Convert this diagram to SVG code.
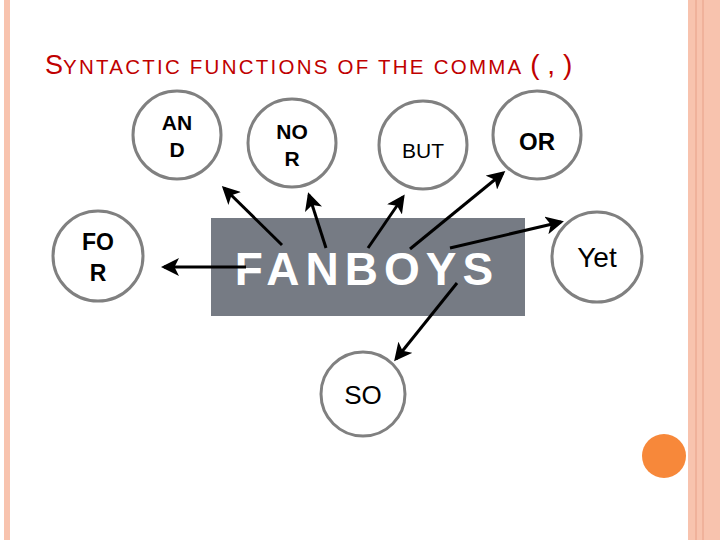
<svg xmlns="http://www.w3.org/2000/svg" width="720" height="540" viewBox="0 0 720 540">
<defs>
<style>
.c{fill:#fff;stroke:#808080;stroke-width:3}
.t{font-family:"Liberation Sans",Arial,sans-serif;fill:#000;text-anchor:middle}
.b{font-weight:bold}
.a{stroke:#000;stroke-width:3;fill:none;marker-end:url(#ah)}
</style>
<marker id="ah" markerWidth="6" markerHeight="6" refX="5" refY="3" orient="auto" markerUnits="strokeWidth"><path d="M0,0 L6,3 L0,6 L1.5,3 Z" fill="#000"/></marker>
</defs>
<rect width="720" height="540" fill="#fff"/>
<rect x="4" y="0" width="6" height="540" fill="#f8c3ae"/>
<rect x="688" y="0" width="32" height="540" fill="#f8c3ae"/>
<line x1="696" y1="0" x2="696" y2="540" stroke="#e8a088" stroke-width="1"/>
<line x1="703" y1="0" x2="703" y2="540" stroke="#e8a088" stroke-width="1"/>
<text x="45" y="74" font-family="Liberation Sans,Arial,sans-serif" fill="#c00000" font-size="27">S<tspan font-size="20.5" textLength="465" lengthAdjust="spacing">YNTACTIC FUNCTIONS OF THE COMMA </tspan><tspan font-size="28">( , )</tspan></text>
<circle cx="664" cy="456" r="22" fill="#f7883a"/>
<g id="fanboys"><rect x="211" y="218" width="314" height="98" fill="#767b84"/>
<text x="367" y="285" font-family="Liberation Sans,Arial,sans-serif" font-size="46" font-weight="bold" fill="#fff" text-anchor="middle" letter-spacing="6">FANBOYS</text></g>
<g id="and"><circle class="c" cx="177" cy="135" r="44"/><text class="t b" font-size="21" x="177" y="130">AN</text><text class="t b" font-size="21" x="177" y="157">D</text></g>
<g id="nor"><circle class="c" cx="292" cy="143" r="44"/><text class="t b" font-size="21" x="292" y="139">NO</text><text class="t b" font-size="21" x="292" y="166">R</text></g>
<g id="but"><circle class="c" cx="423" cy="145" r="44"/><text class="t" font-size="21" x="423" y="158">BUT</text></g>
<g id="or"><circle class="c" cx="537" cy="135" r="44"/><text class="t b" font-size="24" x="537" y="150">OR</text></g>
<g id="for"><circle class="c" cx="98" cy="256" r="45"/><text class="t b" font-size="23" x="98" y="250">FO</text><text class="t b" font-size="23" x="98" y="281">R</text></g>
<g id="yet"><circle class="c" cx="597" cy="257" r="45"/><text class="t" font-size="28" x="597" y="267">Yet</text></g>
<g id="so"><circle class="c" cx="363" cy="394" r="42"/><text class="t" font-size="26" x="363" y="404">SO</text></g>
<g id="connectors">
<line class="a" x1="246" y1="267" x2="164" y2="267"/>
<line class="a" x1="282" y1="245" x2="224" y2="188"/>
<line class="a" x1="326" y1="248" x2="309" y2="195"/>
<line class="a" x1="368" y1="248" x2="403" y2="197"/>
<line class="a" x1="410" y1="249" x2="503" y2="173"/>
<line class="a" x1="450" y1="248" x2="561" y2="222"/>
<line class="a" x1="457" y1="283" x2="396" y2="359"/>
</g>
</svg>
